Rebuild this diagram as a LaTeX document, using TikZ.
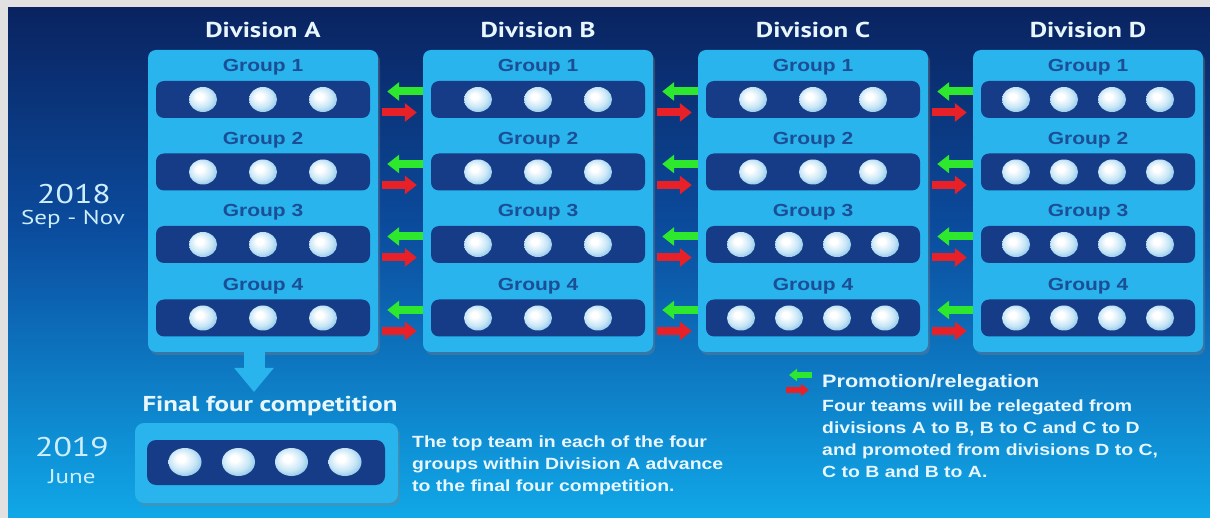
\documentclass[tikz,border=0pt]{standalone}
\usepackage{fontspec}
\usetikzlibrary{arrows.meta,shapes.geometric,shadows,calc}
\newfontfamily\bodyfont{Liberation Sans}[FakeStretch=1.2]
\newfontfamily\headfont{PT Sans}[FakeStretch=1.25]

\definecolor{frame}{HTML}{E1E1E1}
\definecolor{bgtop}{HTML}{0A2360}
\definecolor{bgmid}{HTML}{0B4C9E}
\definecolor{bgbot}{HTML}{10A8E8}
\definecolor{divfill}{HTML}{2AB4EE}
\definecolor{barfill}{HTML}{163C87}
\definecolor{grouptext}{HTML}{1B4E95}
\definecolor{promo}{HTML}{2EE82E}
\definecolor{releg}{HTML}{E82028}
\definecolor{ballrim}{HTML}{8CC6E8}
\definecolor{ballmid}{HTML}{C8E6F7}
\definecolor{lighttext}{HTML}{E8F6FF}
\definecolor{yeartext}{HTML}{CDEEFF}

% glossy team marker
\pgfdeclareradialshading{teamball}{\pgfpoint{-7bp}{7bp}}{%
  color(0bp)=(white); color(6bp)=(white); color(20bp)=(ballmid);
  color(30bp)=(ballrim); color(50bp)=(ballrim)}

\begin{document}
\begin{tikzpicture}[x=1pt,y=-1pt,
  division/.style={fill=divfill, rounded corners=8pt, minimum width=230pt,
    minimum height=302pt, inner sep=0pt,
    drop shadow={shadow xshift=2pt, shadow yshift=-3pt, opacity=0.35}},
  finalbox/.style={fill=divfill, rounded corners=9pt, minimum width=263pt,
    minimum height=80pt, inner sep=0pt,
    drop shadow={shadow xshift=2pt, shadow yshift=-3pt, opacity=0.35}},
  groupbar/.style={fill=barfill, rounded corners=8pt, minimum width=214pt,
    minimum height=37pt, inner sep=0pt},
  finalbar/.style={fill=barfill, rounded corners=9pt, minimum width=238pt,
    minimum height=45pt, inner sep=0pt},
  team/.style={ellipse, minimum width=28pt, minimum height=25pt, inner sep=0pt,
    shading=teamball},
  bigteam/.style={team, minimum width=33pt, minimum height=28pt},
  divtitle/.style={font=\headfont\bfseries\fontsize{21.5}{21.5}\selectfont, text=lighttext},
  grouplabel/.style={font=\bodyfont\bfseries\fontsize{17.5}{17.5}\selectfont, text=grouptext},
  yearbig/.style={font=\headfont\fontsize{27}{27}\selectfont, text=yeartext, inner sep=0pt},
  yearsmall/.style={font=\headfont\fontsize{20}{20}\selectfont, text=yeartext, inner sep=0pt},
  stagetitle/.style={font=\headfont\bfseries\fontsize{21.5}{21.5}\selectfont, text=lighttext},
  bodytext/.style={font=\bodyfont\bfseries\fontsize{16.2}{22}\selectfont, text=lighttext,
    align=left, inner sep=0pt},
  legendtitle/.style={font=\bodyfont\bfseries\fontsize{18}{18}\selectfont, text=lighttext,
    inner sep=0pt},
  promote/.style={draw=promo, line width=8pt, -{Triangle[length=12pt,width=18pt]},
    shorten >=9pt},
  relegate/.style={draw=releg, line width=8pt, -{Triangle[length=12pt,width=18pt]},
    shorten <=4pt, shorten >=6pt},
  promotesmall/.style={draw=promo, line width=5.5pt, -{Triangle[length=8pt,width=12pt]}},
  relegatesmall/.style={draw=releg, line width=5.5pt, -{Triangle[length=8pt,width=12pt]}},
  advance/.style={draw=divfill, line width=21pt, -{Triangle[length=24pt,width=38pt]}}
]
\useasboundingbox (0,0) rectangle (1210,518);

% page frame and background
\fill[frame] (0,0) rectangle (1210,518);
\shade[top color=bgtop, bottom color=bgmid] (8,8) rectangle (1210,230.5);
\shade[top color=bgmid, bottom color=bgbot] (8,230) rectangle (1210,518);

% divisions with their groups and teams
\foreach \i/\d/\cx in {1/A/263,2/B/538,3/C/813,4/D/1088} {
  \node[division] (div\d) at (\cx,201) {};
  \node[divtitle] (title\d) at (\cx,30) {Division \d};
  \foreach \g/\cy in {1/99.5,2/172,3/244.5,4/318} {
    \node[groupbar] (\d\g) at (\cx,\cy) {};
    \node[grouplabel] (lab\d\g) at (\cx,\cy-32) {Group \g};
    \pgfmathtruncatemacro\nteams{ifthenelse(or(\i==4,and(\i==3,\g>2)),4,3)}
    \ifnum\nteams=4 \def\slots{-72,-24,24,72}\else\def\slots{-60,0,60}\fi
    \foreach \k [count=\t] in \slots {
      \node[team] (\d\g t\t) at (\cx+\k,\cy) {};
    }
  }
}

% promotion (green) and relegation (red) between neighbouring divisions
\foreach \l/\r in {A/B,B/C,C/D} {
  \foreach \g in {1,2,3,4} {
    \draw[promote] ($(div\r.west |- \r\g.center)+(0,-8)$) -- ($(div\l.east |- \l\g.center)+(0,-8)$);
    \draw[relegate] ($(div\l.east |- \l\g.center)+(0,13)$) -- ($(div\r.west |- \r\g.center)+(0,13)$);
  }
}

% season labels
\node[yearbig] (y2018) at (74,194) {2018};
\node[yearsmall] (sepnov) at (73,219) {Sep - Nov};
\node[yearbig] (y2019) at (72,447) {2019};
\node[yearsmall] (june) at (72,477) {June};

% final four stage
\node[stagetitle] (fftitle) at (270,406) {Final four competition};
\coordinate (ffdrop) at (254,392);
\draw[advance] ($(divA.south)+(-9,0)$) -- (ffdrop);
\node[finalbox] (final) at (266.5,463) {};
\node[finalbar] (finalbar) at (266,462.5) {};
\foreach \k [count=\t] in {-80,-26.5,26.5,80} {
  \node[bigteam] (ff\t) at (265+\k,462) {};
}
\node[bodytext, anchor=west] (ffnote) at (412,465)
  {The top team in each of the four\\groups within Division A advance\\to the final four competition.};

% legend
\node[legendtitle, anchor=west] (legtitle) at (822,383) {Promotion/relegation};
\draw[promotesmall] ($(legtitle.west)+(-10,-8)$) -- ($(legtitle.west)+(-33,-8)$);
\draw[relegatesmall] ($(legtitle.west)+(-36,7)$) -- ($(legtitle.west)+(-13,7)$);
\node[bodytext, anchor=west] (legtext) at (822,438.5)
  {Four teams will be relegated from\\divisions A to B, B to C and C to D\\and promoted from divisions D to C,\\C to B and B to A.};
\end{tikzpicture}
\end{document}
